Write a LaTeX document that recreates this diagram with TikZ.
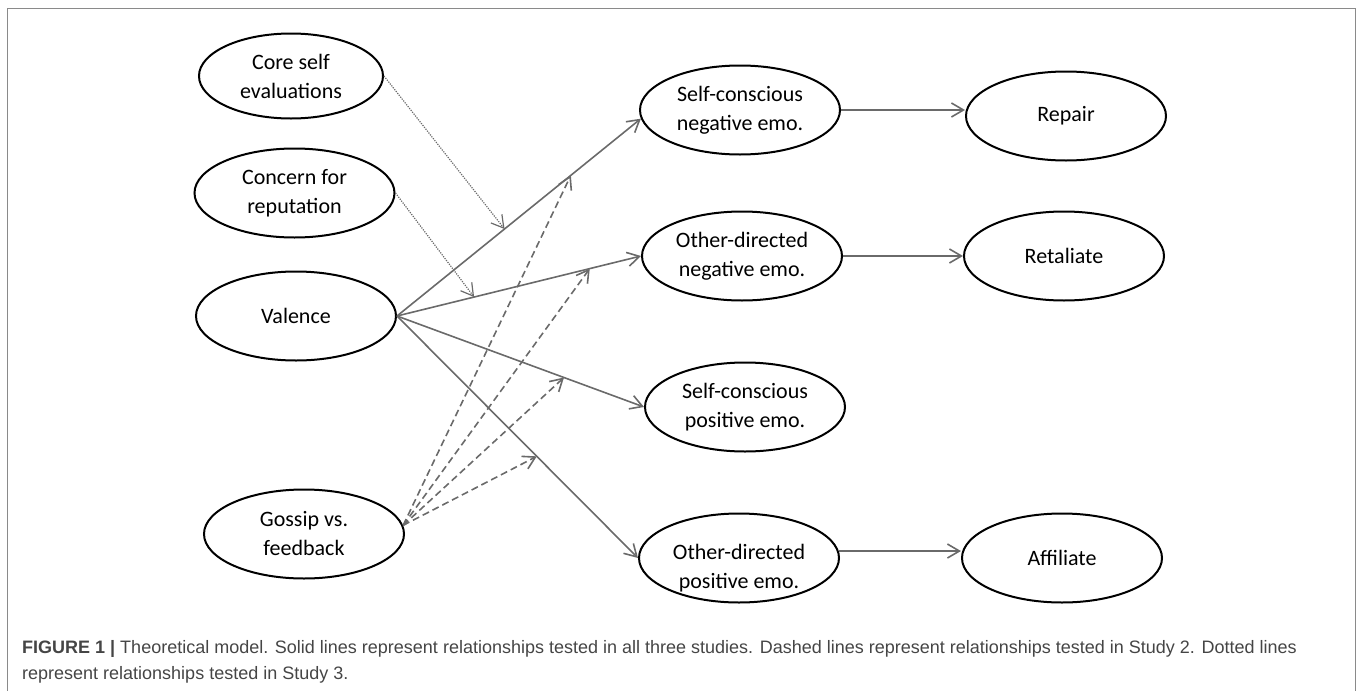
\documentclass[tikz,border=0pt]{standalone}
\usepackage{fontspec}
\setmainfont{Carlito}
\newfontfamily\capfont{Liberation Sans}
\usepackage{xcolor}
\usetikzlibrary{shapes.geometric,arrows.meta}
\definecolor{linegray}{HTML}{6A6A6A}
\definecolor{framegray}{HTML}{8A8A8A}
\definecolor{capgray}{HTML}{454545}

\begin{document}
\begin{tikzpicture}[x=1pt, y=-1pt,
    emo/.style={ellipse, draw=black, line width=2pt, minimum width=200pt, minimum height=89pt,
      inner sep=0pt, align=center, font=\fontsize{22}{29}\selectfont},
    allstudies/.style={draw=linegray, line width=1.6pt, -{Straight Barb[length=12pt,width=14pt]}},
    studytwo/.style={allstudies, dash pattern=on 7pt off 4pt},
    studythree/.style={allstudies, line width=1.2pt, dash pattern=on 1.2pt off 1.2pt},
    captext/.style={anchor=base west, inner sep=0pt, text=capgray, font=\capfont\fontsize{18}{26}\selectfont}]
  \useasboundingbox (0,0) rectangle (1358,691);
  \draw[framegray, line width=1.5pt] (7.5,691) -- (7.5,8.5) -- (1355.5,8.5) -- (1355.5,691);

  \node[emo, minimum width=184pt, minimum height=85pt] (cse) at (291,76) {Core self\\evaluations};
  \foreach \nm/\x/\y/\txt in {cfr/294.5/193/Concern for\\reputation, val/296/316/Valence, gvf/304/534/Gossip vs.\\feedback,
      scn/740/110/Self-conscious\\negative emo., odn/742/256/Other-directed\\negative emo.,
      scp/745/407/Self-conscious\\positive emo.,
      rep/1066/116/Repair, ret/1064/256/Retaliate, aff/1062/558/Affiliate}{%
    \node[emo] (\nm) at (\x,\y) {\txt};
  }
  \node[emo] (odp) at (739,558) {\raisebox{-10pt}[\height][\depth]{\begin{tabular}{@{}c@{}}Other-directed\\positive emo.\end{tabular}}};

  \path (val.east) -- (scn.185) coordinate[pos=0.441] (m1) coordinate[pos=0.713] (m2);
  \path (val.east) -- (odn.west) coordinate[pos=0.316] (n1) coordinate[pos=0.79] (n2);
  \path (val.east) -- (scp.west) coordinate[pos=0.676] (p1);
  \path (val.east) -- (odp.west) coordinate[pos=0.58] (q1);

  \foreach \t in {scn.185, odn.west, scp.west, odp.west}{
    \draw[allstudies] (val.east) -- (\t);
  }
  \draw[allstudies] (scn.east) -- (scn.east -| rep.west);
  \draw[allstudies] (odn.east) -- (odn.east -| ret.west);
  \draw[allstudies] (odp.4) -- (odp.4 -| aff.west);

  \draw[studythree] (cse.east) -- (m1);
  \draw[studythree] (cfr.east) -- (n1);
  \foreach \t in {m2, n2, p1, q1}{
    \draw[studytwo] (gvf.5) -- (\t);
  }

  \node[captext] (cap1) at (22,653.5) {\textbf{FIGURE 1 |} Theoretical model. Solid lines represent relationships tested in all three studies. Dashed lines represent relationships tested in Study 2. Dotted lines};
  \node[captext] (cap2) at (22,679.5) {represent relationships tested in Study 3.};
\end{tikzpicture}
\end{document}
